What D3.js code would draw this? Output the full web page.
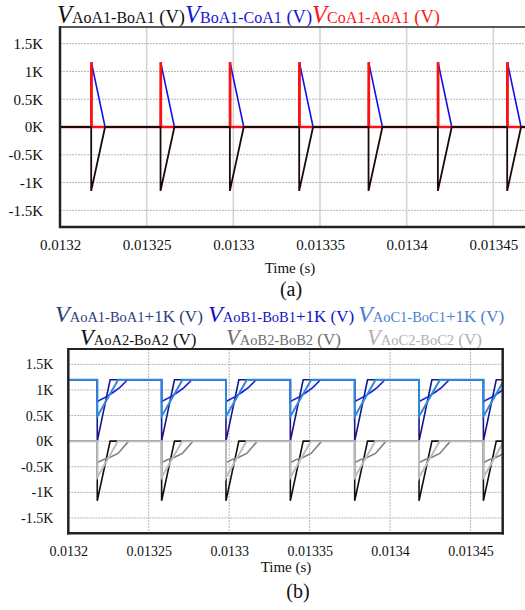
<!DOCTYPE html>
<html>
<head>
<meta charset="utf-8">
<script src="https://cdn.jsdelivr.net/npm/d3@7/dist/d3.min.js"></script>
<style>
  body { margin: 0; background: #fff; }
  svg { display: block; font-family: "Liberation Serif", "Times New Roman", serif; }
</style>
</head>
<body>
<svg id="chart" width="525" height="610"></svg>
<script>
// time axis
var xTicks = [0.0132, 0.01325, 0.0133, 0.01335, 0.0134, 0.01345];
var xTickLabels = ["0.0132", "0.01325", "0.0133", "0.01335", "0.0134", "0.01345"];
var yTicks = [1500, 1000, 500, 0, -500, -1000, -1500];
var yTickLabels = ["1.5K", "1K", "0.5K", "0K", "-0.5K", "-1K", "-1.5K"];
var tStart = 0.0132, tEnd = 0.01347;

// switching instants (s)
var pulseTimes = [0.013218, 0.013258, 0.013298, 0.013338, 0.013378, 0.013418, 0.013458];

// pulse shapes: [offset in microseconds, volts]
// (a)
var shapeAoA1BoA1 = [[0, 0], [0, -1150], [8, 0]];
var shapeBoA1CoA1 = [[0, 0], [0.2, 1150], [8, 0]];
var shapeCoA1AoA1 = [[0, 0], [0, 1150], [0.25, 1150], [0.3, 0]];
// (b) upper group, baseline 1.2K
var shapeA1 = [[0, 1200], [0, 0], [8, 1200]];
var shapeB1 = [[0, 1200], [0, 770], [2.1, 810], [5.8, 870], [10, 955], [14.1, 1050], [18.8, 1200]];
var shapeC1 = [[0, 1200], [0, 480], [13, 1200]];
// (b) lower group, baseline 0
var shapeA2 = [[0, 0], [0, -1165], [8, 0]];
var shapeB2 = [[0, 0], [0, -420], [3.5, -365], [7.7, -320], [12.9, -240], [19.5, 0]];
var shapeC2 = [[0, 0], [0, -710], [12.8, 0]];

var svg = d3.select("#chart");
var serif = "'Liberation Serif', 'Times New Roman', serif";

function buildSeries(shape) {
  var base = shape[0][1];
  var pts = [[tStart, base]];
  pulseTimes.forEach(function(t0) {
    shape.forEach(function(p) { pts.push([t0 + p[0] * 1e-6, p[1]]); });
  });
  pts.push([tEnd, base]);
  return pts;
}

function drawPanel(cfg) {
  var x = d3.scaleLinear().domain([tStart, tEnd]).range([cfg.left, cfg.right]);
  var y = d3.scaleLinear().domain([-1800, 1800]).range([cfg.bottom, cfg.top]);
  var g = svg.append("g");

  var clipId = "clip" + cfg.id;
  svg.append("clipPath").attr("id", clipId)
     .append("rect")
     .attr("x", cfg.left).attr("y", cfg.top)
     .attr("width", cfg.right - cfg.left).attr("height", cfg.bottom - cfg.top);

  // grid
  g.selectAll(".hg").data(yTicks).enter().append("line")
   .attr("x1", cfg.left).attr("x2", cfg.right)
   .attr("y1", function(d) { return y(d); }).attr("y2", function(d) { return y(d); })
   .attr("stroke", "#b5b5b5").attr("stroke-width", 1).attr("stroke-dasharray", "2,1");
  g.selectAll(".vg").data(xTicks.slice(1)).enter().append("line")
   .attr("x1", function(d) { return x(d); }).attr("x2", function(d) { return x(d); })
   .attr("y1", cfg.top).attr("y2", cfg.bottom)
   .attr("stroke", cfg.vGridColor).attr("stroke-width", cfg.vGridWidth)
   .attr("stroke-dasharray", cfg.vGridDash);

  // axes
  var xAxis = d3.axisBottom(x).tickValues(xTicks)
    .tickFormat(function(d, i) { return xTickLabels[i]; })
    .tickSize(0).tickPadding(cfg.xPad);
  var yAxis = d3.axisLeft(y).tickValues(yTicks)
    .tickFormat(function(d, i) { return yTickLabels[i]; })
    .tickSize(0).tickPadding(cfg.yPad);
  var ax = g.append("g").attr("transform", "translate(0," + cfg.bottom + ")").call(xAxis);
  var ay = g.append("g").attr("transform", "translate(" + cfg.left + ",0)").call(yAxis);
  [ax, ay].forEach(function(a) {
    a.attr("font-family", serif).attr("font-size", cfg.fontSize);
    a.select(".domain").remove();
    a.selectAll("text").attr("font-family", serif).attr("font-size", cfg.fontSize).attr("fill", "#111");
  });

  // series
  var line = d3.line().x(function(d) { return x(d[0]); }).y(function(d) { return y(d[1]); });
  var plot = g.append("g").attr("clip-path", "url(#" + clipId + ")");
  cfg.series.forEach(function(s) {
    plot.append("path").datum(buildSeries(s.shape))
        .attr("d", line).attr("fill", "none")
        .attr("stroke", s.color).attr("stroke-width", s.width)
        .attr("stroke-linejoin", "miter");
  });

  // frame
  cfg.frame.forEach(function(f) {
    g.append("line").attr("x1", f[0]).attr("y1", f[1]).attr("x2", f[2]).attr("y2", f[3])
     .attr("stroke", "#222").attr("stroke-width", f[4]);
  });

  // x label and caption
  g.append("text").attr("x", cfg.labelX).attr("y", cfg.labelY).attr("text-anchor", "middle")
   .attr("font-family", serif).attr("font-size", 15).attr("fill", "#111").text("Time (s)");
  g.append("text").attr("x", cfg.capX).attr("y", cfg.capY).attr("text-anchor", "middle")
   .attr("font-family", serif).attr("font-size", 20).attr("fill", "#111").text(cfg.caption);
}

function legendItem(x0, y0, color, sub, tail, sizes) {
  var t = svg.append("text").attr("x", x0).attr("y", y0).attr("fill", color)
             .attr("font-family", serif);
  t.append("tspan").attr("font-style", "italic").attr("font-size", sizes[0]).text("V");
  t.append("tspan").attr("font-size", sizes[1]).text(sub);
  t.append("tspan").attr("font-size", sizes[2]).text(tail);
}

drawPanel({
  id: "a", left: 60, right: 528, top: 27, bottom: 227,
  vGridColor: "#d2d2d2", vGridWidth: 1.5, vGridDash: null,
  xPad: 12, yPad: 17, fontSize: 15,
  series: [
    { shape: shapeBoA1CoA1, color: "#1010e8", width: 1.6 },
    { shape: shapeCoA1AoA1, color: "#ff1010", width: 2.3 },
    { shape: shapeAoA1BoA1, color: "#1a0a0a", width: 1.8 }
  ],
  frame: [[60, 27, 525, 27, 1.5], [60, 26, 60, 228, 2.5], [59, 227, 525, 227, 2.5]],
  labelX: 290, labelY: 273, capX: 291, capY: 296, caption: "(a)"
});

drawPanel({
  id: "b", left: 68.3, right: 502.7, top: 349, bottom: 533.3,
  vGridColor: "#b5b5b5", vGridWidth: 1, vGridDash: "2,1",
  xPad: 12.5, yPad: 15, fontSize: 14,
  series: [
    { shape: shapeA1, color: "#15158c", width: 1.6 },
    { shape: shapeB1, color: "#1e1ee0", width: 1.6 },
    { shape: shapeC1, color: "#2e8ad6", width: 2 },
    { shape: shapeA2, color: "#111111", width: 1.6 },
    { shape: shapeB2, color: "#808080", width: 1.6 },
    { shape: shapeC2, color: "#bdbdbd", width: 2 }
  ],
  frame: [[68.3, 349, 502.7, 349, 2], [68.3, 348, 68.3, 534.5, 2.5],
          [67, 533.3, 504, 533.3, 2.5], [502.7, 348, 502.7, 534.5, 2.5]],
  labelX: 286, labelY: 572, capX: 298, capY: 598, caption: "(b)"
});

// legends
legendItem(57, 22.5, "#111111", "AoA1-BoA1", " (V)", [24.5, 16, 18.5]);
legendItem(185, 22.5, "#1515d8", "BoA1-CoA1", " (V)", [24.5, 16, 18.5]);
legendItem(312, 22.5, "#ff1515", "CoA1-AoA1", " (V)", [24.5, 16, 18.5]);

legendItem(55, 321.5, "#2e3c7c", "AoA1-BoA1", "+1K (V)", [24, 14.5, 17]);
legendItem(208, 321.5, "#1212c8", "AoB1-BoB1", "+1K (V)", [24, 14.5, 17]);
legendItem(358, 321.5, "#4d7fcf", "AoC1-BoC1", "+1K (V)", [24, 14.5, 17]);
legendItem(80, 345, "#111111", "AoA2-BoA2", " (V)", [22.5, 14.5, 17]);
legendItem(226, 345, "#6e6e6e", "AoB2-BoB2", " (V)", [22.5, 14.5, 17]);
legendItem(367, 345, "#b0b0b0", "AoC2-BoC2", " (V)", [22.5, 14.5, 17]);
</script>
</body>
</html>
